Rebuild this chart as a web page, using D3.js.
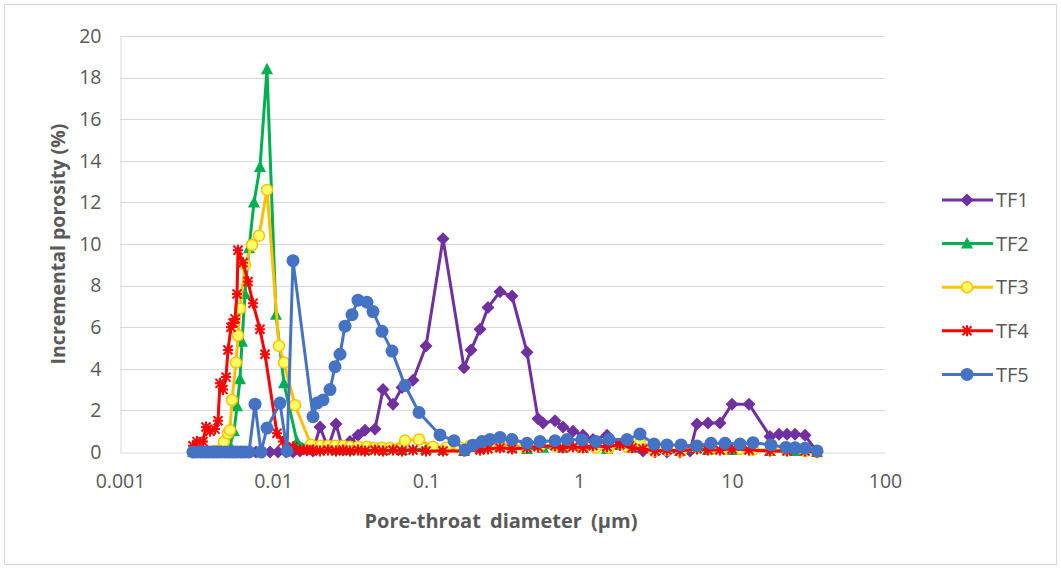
<!DOCTYPE html>
<html>
<head>
<meta charset="utf-8">
<script src="https://cdn.jsdelivr.net/npm/d3@7"></script>
<style>
  body { margin: 0; background: #fff; }
  text { font-family: "Open Sans", "Noto Sans", sans-serif; fill: #595959; }
</style>
</head>
<body>
<svg id="chart" width="1061" height="571"></svg>
<script>
// Pore-throat size distributions (incremental porosity, %) for five samples
const seriesNames = ["TF1", "TF2", "TF3", "TF4", "TF5"];

const tf1Diameter = [0.003, 0.00333, 0.0037, 0.00412, 0.00457, 0.00508, 0.00565, 0.00627, 0.00697, 0.00774,
  0.0086, 0.00956, 0.01078, 0.01216, 0.01351, 0.01501, 0.01668, 0.01826, 0.02029, 0.02288,
  0.02581, 0.02868, 0.03187, 0.03594, 0.03993, 0.04642, 0.05235, 0.06085, 0.06969, 0.08225,
  0.1, 0.1292, 0.1772, 0.1969, 0.2254, 0.2542, 0.3046, 0.3648, 0.4572, 0.5396,
  0.5819, 0.6969, 0.7861, 0.9136, 1.062, 1.235, 1.524, 1.853, 2.221, 2.62,
  3.139, 3.76, 4.573, 5.315, 5.905, 6.969, 8.348, 10.0, 12.92, 17.72,
  20.29, 22.88, 25.81, 30.0, 35.94];
const tf1Porosity = [0, 0, 0, 0, 0, 0, 0, 0, 0, 0,
  0, 0, 0, 0, 0, 0.05, 0.1, 0.05, 1.2, 0.2,
  1.35, 0.1, 0.5, 0.8, 1.05, 1.1, 3.0, 2.3, 3.1, 3.45,
  5.1, 10.25, 4.05, 4.9, 5.9, 6.95, 7.7, 7.5, 4.8, 1.6,
  1.4, 1.5, 1.2, 1.0, 0.8, 0.6, 0.8, 0.35, 0.3, 0.05,
  0, 0, 0, 0.05, 1.35, 1.4, 1.4, 2.3, 2.3, 0.75,
  0.85, 0.85, 0.85, 0.8, 0];

const tf2Diameter = [0.003, 0.00333, 0.0037, 0.00412, 0.00457, 0.00493, 0.005235, 0.005561, 0.005819, 0.006085,
  0.006272, 0.006561, 0.006969, 0.007514, 0.008222, 0.009136, 0.01046, 0.0118, 0.01435, 0.01745,
  0.0203, 0.0258, 0.0319, 0.0399, 0.0524, 0.0697, 0.1, 0.1292, 0.1772, 0.2254,
  0.3046, 0.3648, 0.4572, 0.5819, 0.7861, 1.062, 1.524, 2.221, 3.139, 4.573,
  6.969, 10.0, 17.72, 25.81, 35.94];
const tf2Porosity = [0, 0, 0, 0, 0, 0, 0.3, 1.0, 2.2, 3.5,
  5.3, 7.6, 9.8, 12.0, 13.7, 18.4, 6.6, 3.3, 0.5, 0.2,
  0.15, 0.1, 0.1, 0.1, 0.1, 0.1, 0.15, 0.1, 0.05, 0.2,
  0.25, 0.2, 0.15, 0.2, 0.2, 0.2, 0.15, 0.2, 0.1, 0.05,
  0.1, 0.1, 0.05, 0.05, 0];

const tf3Diameter = [0.003, 0.00333, 0.0037, 0.00412, 0.00457, 0.004784, 0.00508, 0.005235, 0.005396, 0.005732,
  0.005905, 0.006085, 0.006561, 0.007291, 0.008099, 0.009136, 0.01094, 0.0118, 0.01393, 0.01772,
  0.02029, 0.02288, 0.02542, 0.02868, 0.03187, 0.03594, 0.04115, 0.04572, 0.05157, 0.05817,
  0.07291, 0.09, 0.1111, 0.1351, 0.1668, 0.1939, 0.2254, 0.262, 0.3046, 0.3648,
  0.4437, 0.556, 0.6969, 0.8349, 1.046, 1.292, 1.571, 2.06, 2.504, 3.092,
  3.76, 4.642, 5.905, 7.291, 9.0, 11.28, 13.72, 17.99, 22.54, 30.0,
  35.94];
const tf3Porosity = [0, 0, 0, 0.05, 0.1, 0.5, 0.9, 1.05, 2.5, 4.3,
  5.6, 6.9, 9.0, 9.95, 10.4, 12.6, 5.1, 4.3, 2.25, 0.35,
  0.3, 0.3, 0.3, 0.3, 0.25, 0.25, 0.25, 0.2, 0.2, 0.2,
  0.55, 0.6, 0.25, 0.2, 0.2, 0.3, 0.35, 0.3, 0.35, 0.3,
  0.25, 0.3, 0.3, 0.3, 0.25, 0.2, 0.2, 0.25, 0.45, 0.05,
  0.1, 0.05, 0.2, 0.15, 0.15, 0.15, 0.1, 0.1, 0.1, 0.05,
  0];

const tf4Diameter = [0.003, 0.003186, 0.003487, 0.003649, 0.003875, 0.004177, 0.00437, 0.004504, 0.004713, 0.00493,
  0.00508, 0.005315, 0.005478, 0.00565, 0.005819, 0.005905, 0.006367, 0.006865, 0.007402, 0.008222,
  0.008866, 0.01062, 0.01162, 0.01351, 0.01501, 0.01668, 0.01826, 0.02029, 0.02288, 0.02581,
  0.02868, 0.03187, 0.03594, 0.03993, 0.04642, 0.05235, 0.06085, 0.06969, 0.08225, 0.1,
  0.1292, 0.1772, 0.2254, 0.2542, 0.3046, 0.3648, 0.4572, 0.5396, 0.6969, 0.7861,
  0.9136, 1.062, 1.235, 1.524, 1.853, 2.221, 2.62, 3.139, 3.76, 4.573,
  5.905, 6.969, 8.348, 10.0, 12.92, 17.72, 22.88, 30.0, 35.94];
const tf4Porosity = [0.3, 0.5, 0.5, 1.2, 1.0, 1.1, 1.5, 3.3, 3.0, 3.6,
  4.9, 6.0, 6.2, 6.4, 7.6, 9.7, 9.1, 8.2, 7.15, 5.9,
  4.7, 0.9, 0.5, 0.25, 0.1, 0.1, 0.1, 0.05, 0.1, 0.05,
  0.1, 0.05, 0.1, 0.05, 0.1, 0.05, 0.1, 0.05, 0.1, 0.05,
  0.05, 0.05, 0.1, 0.15, 0.2, 0.15, 0.2, 0.25, 0.3, 0.2,
  0.25, 0.2, 0.3, 0.25, 0.35, 0.2, 0.15, 0.05, 0.1, 0.05,
  0.15, 0.1, 0.1, 0.15, 0.1, 0.05, 0.05, 0.05, 0];

const tf5Diameter = [0.003, 0.003186, 0.003384, 0.003594, 0.003817, 0.004054, 0.004305, 0.004573, 0.004857, 0.005157,
  0.005478, 0.005819, 0.006178, 0.006561, 0.006969, 0.007627, 0.008348, 0.009136, 0.01111, 0.01235,
  0.01351, 0.01826, 0.01939, 0.02122, 0.02358, 0.02542, 0.02741, 0.02955, 0.03284, 0.03594,
  0.04115, 0.04504, 0.05157, 0.05995, 0.07291, 0.09, 0.1235, 0.1524, 0.1798, 0.2029,
  0.2323, 0.262, 0.3046, 0.3648, 0.4572, 0.556, 0.6969, 0.8349, 1.046, 1.292,
  1.571, 2.06, 2.504, 3.092, 3.76, 4.642, 5.905, 7.291, 9.0, 11.28,
  13.72, 17.99, 22.54, 25.81, 30.0, 35.94];
const tf5Porosity = [0, 0, 0, 0, 0, 0, 0, 0, 0, 0,
  0, 0, 0, 0, 0, 2.3, 0, 1.15, 2.35, 0.05,
  9.2, 1.7, 2.35, 2.5, 3.0, 4.1, 4.7, 6.05, 6.6, 7.3,
  7.2, 6.75, 5.8, 4.85, 3.2, 1.9, 0.82, 0.54, 0.1, 0.33,
  0.5, 0.6, 0.7, 0.6, 0.42, 0.5, 0.54, 0.6, 0.58, 0.5,
  0.6, 0.6, 0.86, 0.38, 0.34, 0.34, 0.29, 0.42, 0.42, 0.38,
  0.45, 0.34, 0.22, 0.2, 0.18, 0.05];

const xTickValues = [0.001, 0.01, 0.1, 1, 10, 100];
const xTickLabels = ["0.001", "0.01", "0.1", "1", "10", "100"];
const yTickValues = [0, 2, 4, 6, 8, 10, 12, 14, 16, 18, 20];

const diameters = [tf1Diameter, tf2Diameter, tf3Diameter, tf4Diameter, tf5Diameter];
const porosities = [tf1Porosity, tf2Porosity, tf3Porosity, tf4Porosity, tf5Porosity];

const styles = [
  { color: "#7030A0", marker: "diamond" },
  { color: "#00B050", marker: "triangle" },
  { color: "#FFC000", marker: "circleOpen", fill: "#FFFF66" },
  { color: "#FF0000", marker: "star" },
  { color: "#4472C4", marker: "circle" }
];

const svg = d3.select("#chart");
const plotLeft = 120, plotRight = 885, plotTop = 36, plotBottom = 452;

svg.append("rect").attr("x", 4.5).attr("y", 4.5).attr("width", 1052).attr("height", 560)
  .attr("fill", "#fff").attr("stroke", "#D9D9D9").attr("stroke-width", 1);

const x = d3.scaleLog().domain([0.001, 100]).range([plotLeft, plotRight]);
const y = d3.scaleLinear().domain([0, 20]).range([plotBottom, plotTop]);

// horizontal gridlines
svg.append("g").selectAll("line").data(yTickValues.slice(1)).join("line")
  .attr("x1", plotLeft).attr("x2", plotRight)
  .attr("y1", d => Math.round(y(d)) + 0.5).attr("y2", d => Math.round(y(d)) + 0.5)
  .attr("stroke", "#D9D9D9").attr("stroke-width", 1);

// axes
const xAxis = svg.append("g").attr("transform", `translate(0,${plotBottom + 0.5})`)
  .call(d3.axisBottom(x).tickValues(xTickValues).tickFormat((d, i) => xTickLabels[i])
    .tickSize(0).tickPadding(22));
const yAxis = svg.append("g").attr("transform", `translate(${plotLeft + 0.5},0)`)
  .call(d3.axisLeft(y).tickValues(yTickValues).tickFormat(d3.format("d"))
    .tickSize(0).tickPadding(19));
[xAxis, yAxis].forEach(g => {
  g.select(".domain").attr("stroke", "#D9D9D9").attr("stroke-width", 1);
  g.selectAll("text").attr("font-size", 19.5).attr("fill", "#595959")
    .style("font-family", '"Open Sans", sans-serif');
});

// axis titles
svg.append("text").attr("x", 501).attr("y", 528).attr("text-anchor", "middle")
  .attr("font-size", 20).attr("font-weight", "bold").attr("word-spacing", 4)
  .text("Pore-throat diameter (µm)");
svg.append("text").attr("transform", "translate(65,244) rotate(-90)").attr("text-anchor", "middle")
  .attr("font-size", 19.5).attr("font-weight", "bold").text("Incremental porosity (%)");

function drawMarker(g, st) {
  switch (st.marker) {
    case "diamond":
      g.append("path").attr("d", "M0,-6.5L6.5,0L0,6.5L-6.5,0Z").attr("fill", st.color);
      break;
    case "triangle":
      g.append("path").attr("d", "M0,-6.5L6,5L-6,5Z").attr("fill", st.color);
      break;
    case "circleOpen":
      g.append("circle").attr("r", 5.5).attr("fill", st.fill).attr("stroke", st.color).attr("stroke-width", 1.5);
      break;
    case "star":
      g.append("path").attr("d", "M-4.5,-4.5L4.5,4.5M-4.5,4.5L4.5,-4.5M0,-5.5L0,5.5M-5,0L5,0")
        .attr("stroke", st.color).attr("stroke-width", 2).attr("fill", "none");
      break;
    case "circle":
      g.append("circle").attr("r", 6.5).attr("fill", st.color);
      break;
  }
}

const line = d3.line().x(d => x(d[0])).y(d => y(d[1]));

seriesNames.forEach((name, i) => {
  const st = styles[i];
  const pts = diameters[i].map((d, j) => [d, porosities[i][j]]);
  const g = svg.append("g").attr("class", "series-" + name);
  g.append("path").datum(pts).attr("d", line).attr("fill", "none")
    .attr("stroke", st.color).attr("stroke-width", 3).attr("stroke-linejoin", "round");
  pts.forEach(p => {
    const m = g.append("g").attr("transform", `translate(${x(p[0])},${y(p[1])})`);
    drawMarker(m, st);
  });
});

// legend
const legend = svg.append("g");
seriesNames.forEach((name, i) => {
  const st = styles[i];
  const ly = 200 + i * 43.6;
  legend.append("line").attr("x1", 942).attr("x2", 993).attr("y1", ly).attr("y2", ly)
    .attr("stroke", st.color).attr("stroke-width", 3);
  const m = legend.append("g").attr("transform", `translate(967,${ly})`);
  drawMarker(m, st);
  legend.append("text").attr("x", 996).attr("y", ly).attr("dy", "0.36em")
    .attr("font-size", 20).text(name);
});
</script>
</body>
</html>
